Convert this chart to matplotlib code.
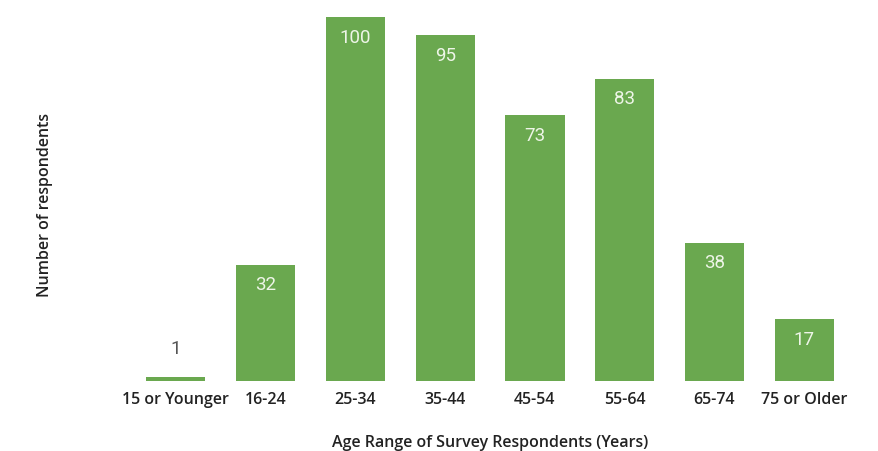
import numpy as np
from matplotlib import pyplot as plt

# Age ranges of survey respondents and counts
categories = ["15 or Younger", "16-24", "25-34", "35-44", "45-54", "55-64", "65-74", "75 or Older"]
counts = [1, 32, 100, 95, 73, 83, 38, 17]

plt.rcParams['font.family'] = ['Open Sans', 'DejaVu Sans']

fig = plt.figure(figsize=(8.79, 4.52), dpi=100)
ax = fig.add_axes([0.149, 0.155, 0.817, 0.805])

x = np.arange(len(categories))
bars = ax.bar(x, counts, width=0.66, color="#6aa84f")

# value labels: white inside the bar, grey above it if the bar is too short
for xi, v in zip(x, counts):
    if v < 10:
        ax.annotate(str(v), (xi, v), xytext=(0, 21), textcoords="offset points",
                    ha="center", va="center", fontsize=13.5, color="#555555",
                    family="Roboto")
    else:
        ax.annotate(str(v), (xi, v), xytext=(0, -14), textcoords="offset points",
                    ha="center", va="center", fontsize=13.5, color="#eef5e8",
                    family="Roboto")

ax.set_xlim(-0.5, len(categories) - 0.5)
ax.set_ylim(0, 100)
ax.set_xticks(x)
ax.set_xticklabels(categories, fontsize=11.5, color="#222222", fontweight="semibold")
ax.tick_params(axis="x", length=0, pad=7)
ax.set_yticks([])
for s in ax.spines.values():
    s.set_visible(False)

ax.set_xlabel("Age Range of Survey Respondents (Years)", fontsize=11.5,
              color="#222222", fontweight="semibold", labelpad=20)
fig.text(0.051, 0.546, "Number of respondents", rotation=90, ha="center", va="center",
         fontsize=11.5, color="#222222", fontweight="semibold")

plt.savefig("out.png", dpi=100)
